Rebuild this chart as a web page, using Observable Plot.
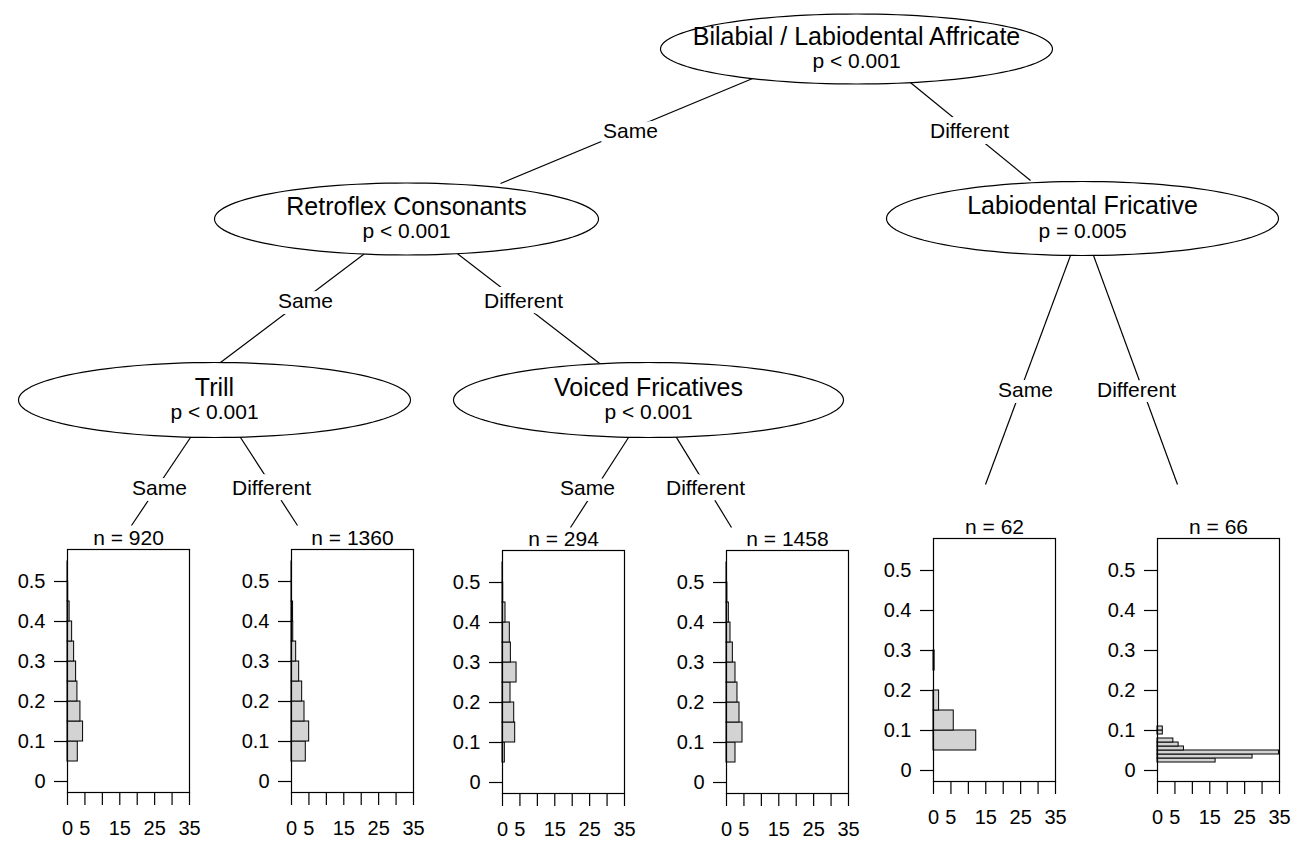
<!DOCTYPE html>
<html><head><meta charset="utf-8">
<script src="https://cdn.jsdelivr.net/npm/d3@7"></script>
<script src="https://cdn.jsdelivr.net/npm/@observablehq/plot@0.6"></script>
<style>
body{margin:0;background:#fff;}
#chart{position:relative;width:1305px;height:841px;overflow:hidden;font-family:"Liberation Sans",Arial,Helvetica,sans-serif;}
#chart > div{position:absolute;}
#chart svg{overflow:visible;}
</style></head><body><div id="chart"></div>
<script>
// ---------- data ----------
const nodeNames = ["Bilabial / Labiodental Affricate", "Retroflex Consonants", "Labiodental Fricative", "Trill", "Voiced Fricatives"];
const nodePValues = ["p < 0.001", "p < 0.001", "p = 0.005", "p < 0.001", "p < 0.001"];
const edgeLabels = ["Same", "Different", "Same", "Different", "Same", "Different", "Same", "Different", "Same", "Different"];
const terminalN = [920, 1360, 294, 1458, 62, 66];
const breaks05 = [0.05, 0.10, 0.15, 0.20, 0.25, 0.30, 0.35, 0.40, 0.45, 0.50, 0.55];
const breaks01 = [0.02, 0.03, 0.04, 0.05, 0.06, 0.07, 0.08, 0.09, 0.10, 0.11];
const density1 = [2.95, 4.47, 3.71, 2.85, 2.47, 1.90, 1.33, 0.60, 0.20, 0.10];
const density2 = [4.10, 5.07, 3.73, 3.06, 2.20, 1.34, 0.50, 0.45, 0.10, 0.05];
const density3 = [0.67, 3.64, 3.36, 2.30, 4.03, 2.40, 2.10, 0.86, 0.20, 0.07];
const density4 = [2.58, 4.59, 3.73, 3.15, 2.58, 1.82, 1.15, 0.67, 0.25, 0.10];
const density5 = [12.26, 5.81, 1.61, 0, 0.32];
const density6 = [16.67, 27.27, 34.85, 7.58, 6.06, 4.55, 0, 1.52, 1.52];
const xTicks = [0, 5, 10, 15, 20, 25, 30, 35];
const xTickLabels = [0, 5, 15, 25, 35];
const yTicks = [0, 0.1, 0.2, 0.3, 0.4, 0.5];

// ---------- layout (diagram geometry, pixels) ----------
const nodeLayout = [
  {cx: 856, cy: 48.5, rx: 196, ry: 35},
  {cx: 406, cy: 218.5, rx: 192, ry: 36},
  {cx: 1082, cy: 218, rx: 196, ry: 37},
  {cx: 214, cy: 399.5, rx: 196, ry: 37.5},
  {cx: 648, cy: 399.5, rx: 195, ry: 37.5}
];
const edgeLayout = [
  {x1: 752, y1: 78, x2: 500, y2: 183, lx: 630, ly: 131},
  {x1: 905, y1: 78, x2: 1030, y2: 180, lx: 969, ly: 131},
  {x1: 363, y1: 254, x2: 220, y2: 362, lx: 305, ly: 301},
  {x1: 458, y1: 254, x2: 603, y2: 366, lx: 523, ly: 301},
  {x1: 1070, y1: 255, x2: 985, y2: 484, lx: 1025, ly: 390},
  {x1: 1093, y1: 255, x2: 1177, y2: 484, lx: 1136, ly: 390},
  {x1: 190, y1: 437, x2: 131, y2: 525, lx: 159, ly: 488},
  {x1: 240, y1: 437, x2: 297, y2: 525, lx: 271, ly: 488},
  {x1: 628, y1: 437, x2: 570, y2: 527, lx: 587, ly: 488},
  {x1: 676, y1: 437, x2: 731, y2: 527, lx: 705, ly: 488}
];
const panelLayout = [[67, 549], [291, 549], [502, 550], [726, 550], [933, 538], [1157, 538]];
const panelW = 122, panelH = 243;

const FONT = '"Liberation Sans", Arial, Helvetica, sans-serif';
const chart = document.getElementById("chart");

// ---------- tree ----------
const nodes = nodeNames.map((name, i) => ({name, p: nodePValues[i], ...nodeLayout[i]}));
const edges = edgeLabels.map((label, i) => {
  const e = edgeLayout[i];
  const dx = e.x2 - e.x1, dy = e.y2 - e.y1, len = Math.hypot(dx, dy);
  // extend a few px into the parent ellipse so the join is hidden
  return {label, x1: e.x1 - dx / len * 6, y1: e.y1 - dy / len * 6, x2: e.x2, y2: e.y2, lx: e.lx, ly: e.ly};
});
const ellipsePts = nodes.flatMap((n, i) => d3.range(0, 121).map(k => {
  const a = k / 120 * 2 * Math.PI;
  return {node: i, x: n.cx + n.rx * Math.cos(a), y: n.cy + n.ry * Math.sin(a)};
}));

const tree = Plot.plot({
  width: 1305, height: 841, margin: 0,
  x: {domain: [0, 1305], axis: null},
  y: {domain: [0, 841], range: [0, 841], axis: null},
  style: {fontFamily: FONT, background: "transparent"},
  marks: [
    Plot.link(edges, {x1: "x1", y1: "y1", x2: "x2", y2: "y2", stroke: "black", strokeWidth: 1.2}),
    Plot.line(ellipsePts, {x: "x", y: "y", z: "node", curve: "linear-closed", fill: "white", stroke: "black", strokeWidth: 1.2}),
    Plot.text(edges, {x: "lx", y: "ly", text: "label", fontSize: 21, fill: "black", stroke: "white", strokeWidth: 12, strokeLinejoin: "round", paintOrder: "stroke"}),
    Plot.text(nodes, {x: "cx", y: d => d.cy - 12.5, text: "name", fontSize: 25, fill: "black"}),
    Plot.text(nodes, {x: "cx", y: d => d.cy + 12.5, text: "p", fontSize: 21, fill: "black"})
  ]
});
const treeDiv = document.createElement("div");
treeDiv.style.left = "0px"; treeDiv.style.top = "0px";
treeDiv.appendChild(tree);
chart.appendChild(treeDiv);

// ---------- terminal histograms ----------
const densities = [density1, density2, density3, density4, density5, density6];
const panelBreaks = [breaks05, breaks05, breaks05, breaks05, breaks05, breaks01];
const ml = 80, mr = 30, mt = 40, mb = 50;

densities.forEach((dens, i) => {
  const br = panelBreaks[i];
  const bins = dens.map((d, k) => ({y1: br[k], y2: br[k + 1], density: d}));
  const p = Plot.plot({
    width: ml + panelW + mr, height: mt + panelH + mb,
    marginLeft: ml, marginRight: mr, marginTop: mt, marginBottom: mb,
    x: {domain: [0, 35]},
    y: {domain: [-0.0275, 0.58]},
    style: {fontFamily: FONT, fontSize: "20px", background: "transparent", color: "black"},
    marks: [
      Plot.rect(bins, {y1: "y1", y2: "y2", x1: 0, x2: "density", fill: "#d3d3d3", stroke: "black", strokeWidth: 1}),
      Plot.frame({stroke: "black", strokeWidth: 1.2}),
      Plot.axisY({ticks: yTicks, tickSize: 13, tickPadding: 9, tickFormat: d => d === 0 ? "0" : d3.format(".1f")(d), label: null, fontSize: 20, strokeWidth: 1.2}),
      Plot.axisX({ticks: xTicks, tickSize: 13, tickPadding: 15, tickFormat: d => xTickLabels.includes(d) ? String(d) : "", label: null, fontSize: 20, strokeWidth: 1.2}),
      Plot.text([`n = ${terminalN[i]}`], {text: d => d, frameAnchor: "top", dy: -11, lineAnchor: "middle", fontSize: 21, fill: "black"})
    ]
  });
  const div = document.createElement("div");
  div.style.left = (panelLayout[i][0] - ml) + "px";
  div.style.top = (panelLayout[i][1] - mt) + "px";
  div.style.width = (ml + panelW + mr) + "px";
  div.appendChild(p);
  chart.appendChild(div);
});
</script></body></html>
